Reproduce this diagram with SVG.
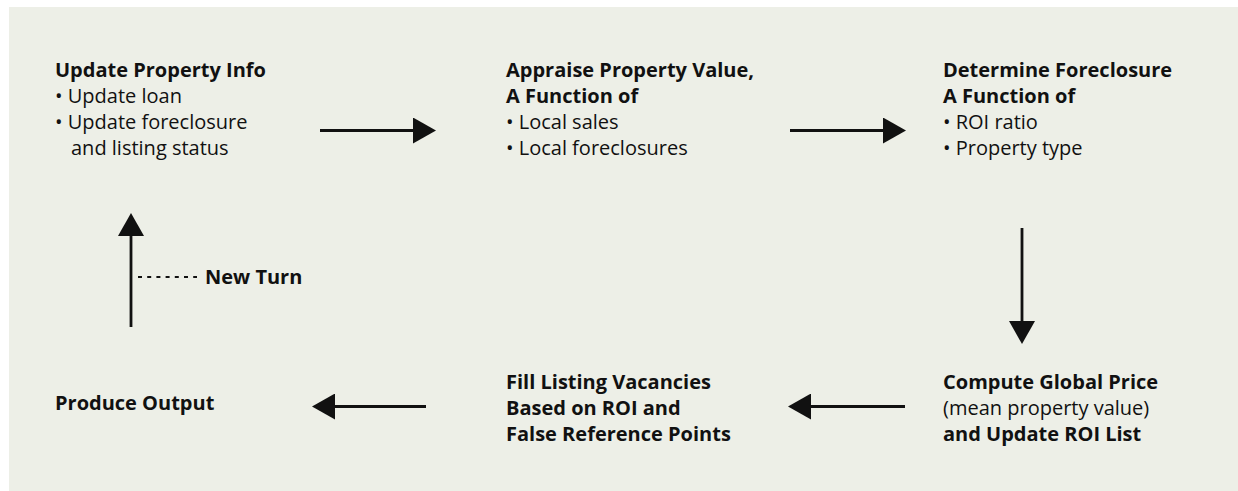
<svg xmlns="http://www.w3.org/2000/svg" width="1238" height="491" viewBox="0 0 1238 491">
  <style>
    text { font-family: "Open Sans", "Liberation Sans", sans-serif; font-size: 20px; fill: #111; }
    .h { font-weight: 700; }
    .b { font-weight: 400; }
    .link { fill: none; stroke: #111; stroke-width: 2.8; marker-end: url(#head); }
    .dots { fill: none; stroke: #111; stroke-width: 2.2; stroke-dasharray: 4 5.2; }
  </style>
  <defs>
    <marker id="head" viewBox="0 0 23 26" markerWidth="23" markerHeight="26" refX="1" refY="13" orient="auto" markerUnits="userSpaceOnUse">
      <path d="M0,0 L23,13 L0,26 Z" fill="#111"/>
    </marker>
  </defs>

  <rect x="9" y="7" width="1229" height="484" fill="#EDEFE7"/>

  <g id="update-property-info">
    <text class="h" x="55" y="77">Update Property Info</text>
    <text class="b" x="55" y="103">• Update loan</text>
    <text class="b" x="55" y="129">• Update foreclosure</text>
    <text class="b" x="71" y="155">and listing status</text>
  </g>

  <g id="appraise-property-value">
    <text class="h" x="506" y="77">Appraise Property Value,</text>
    <text class="h" x="506" y="103">A Function of</text>
    <text class="b" x="506" y="129">• Local sales</text>
    <text class="b" x="506" y="155">• Local foreclosures</text>
  </g>

  <g id="determine-foreclosure">
    <text class="h" x="943" y="77">Determine Foreclosure</text>
    <text class="h" x="943" y="103">A Function of</text>
    <text class="b" x="943" y="129">• ROI ratio</text>
    <text class="b" x="943" y="155">• Property type</text>
  </g>

  <g id="compute-global-price">
    <text class="h" x="943" y="389">Compute Global Price</text>
    <text class="b" x="943" y="415">(mean property value)</text>
    <text class="h" x="943" y="441">and Update ROI List</text>
  </g>

  <g id="fill-listing-vacancies">
    <text class="h" x="506" y="389">Fill Listing Vacancies</text>
    <text class="h" x="506" y="415">Based on ROI and</text>
    <text class="h" x="506" y="441">False Reference Points</text>
  </g>

  <g id="produce-output">
    <text class="h" x="55" y="410">Produce Output</text>
  </g>

  <g id="new-turn">
    <text class="h" x="205" y="284">New Turn</text>
  </g>

  <g id="connectors">
    <path class="link" d="M320,130.5 H414"/>
    <path class="link" d="M790,130.5 H884"/>
    <path class="link" d="M1022,228 V322"/>
    <path class="link" d="M905,406.5 H810"/>
    <path class="link" d="M426,406.5 H334"/>
    <path class="link" d="M131,327 V235"/>
    <path class="dots" d="M138,277 H197"/>
  </g>
</svg>
